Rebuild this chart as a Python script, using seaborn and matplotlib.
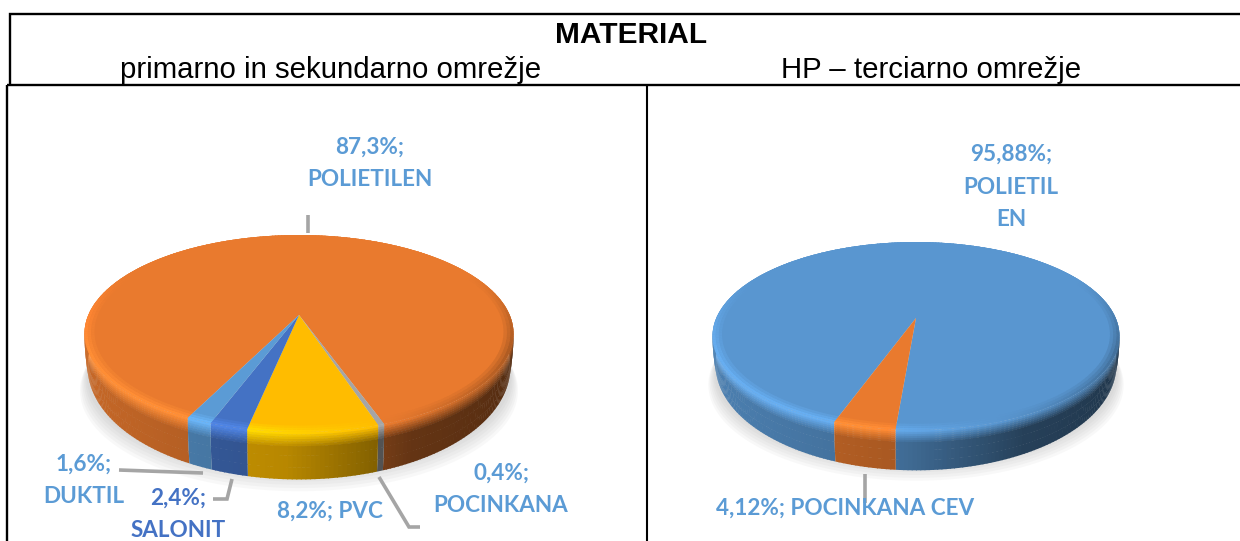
import numpy as np
import matplotlib
matplotlib.use("Agg")
import matplotlib.pyplot as plt
import seaborn as sns
from matplotlib.collections import PolyCollection
from matplotlib.colors import to_rgb
from matplotlib.transforms import Transform

W, H = 1240, 541

# ---------------- data ------------------#
title = "MATERIAL"
left_head = "primarno in sekundarno omrežje"
right_head = "HP – terciarno omrežje"

left_names = ["POLIETILEN", "POCINKANA", "PVC", "SALONIT", "DUKTIL"]
left_values = [87.3, 0.4, 8.2, 2.4, 1.6]
left_colors = ["#E97A2E", "#A5A5A5", "#FFBC00", "#4472C4", "#5B9BD5"]

right_names = ["POLIETILEN", "POCINKANA CEV"]
right_values = [95.88, 4.12]
right_colors = ["#5996D0", "#E97A2E"]

sns.set_theme(style="white")
plt.rcParams["font.family"] = ["Liberation Sans", "DejaVu Sans"]
LABEL_BLUE = "#5B9BD5"
LEADER = "#A5A5A5"


# perspective tilt, so that the pie centre sits behind the middle of the ellipse
class Tilt(Transform):
    input_dims = 2
    output_dims = 2
    has_inverse = False

    def __init__(self, k):
        super().__init__()
        self.k = k

    def transform_non_affine(self, values):
        values = np.asarray(values, dtype=float)
        w = 1 + self.k * values[:, 1]
        return values / w[:, None]


def project(x, y, k):
    w = 1 + k * y
    return x / w, y / w


def wall_shade(x):
    return np.interp(x, [-1, -0.05, 0.45, 1], [0.86, 0.72, 0.43, 0.36])


def bevel_shade(x):
    return np.interp(x, [-1, -0.2, 0.4, 1], [1.16, 1.16, 0.98, 0.72])


def wall_point(a, v, k, d):
    # point on the wall at angle a, v runs 0 (top edge) to 1 (bottom edge)
    x, y = project(np.cos(a), np.sin(a), k)
    drop = d * v * (0.62 + 0.38 * max(-np.sin(a), 0))
    return x * (1 - 0.014 * v ** 2), y - drop


def draw_pie(box, cx, cy, k, sx, sy, depth, values, colors, start):
    # box is left, top, right, bottom in pixels
    l, t, r, b = box
    ax = fig.add_axes([l / W, 1 - b / H, (r - l) / W, (b - t) / H])
    wedges, _ = ax.pie(values, colors=colors, startangle=start, counterclock=False,
                       radius=1, wedgeprops={"linewidth": 0})
    ax.set_aspect("auto")
    ax.set_xlim((l - cx) / sx, (r - cx) / sx)
    ax.set_ylim((cy - b) / sy, (cy - t) / sy)
    ax.axis("off")
    tilt = Tilt(k)
    for wedge in wedges:
        wedge.set_transform(tilt + ax.transData)
        wedge.set_zorder(3)
        wedge.set_clip_on(False)

    d = depth / sy
    # soft shadow under the pie
    tt = np.linspace(0, 2 * np.pi, 180)
    for i in range(6):
        rad = 0.99 + 0.006 * i
        px, py = project(rad * np.cos(tt), rad * np.sin(tt), k)
        ax.fill(px, py - d * (0.95 + 0.05 * i), color="#808080", alpha=0.05, lw=0, zorder=0)

    # side wall and bevel, cut in thin strips of each slice
    edges = start - np.cumsum([0] + list(values)) / sum(values) * 360
    wall_p, wall_c, bev_p, bev_c = [], [], [], []
    rows = [0, 0.05, 0.1, 0.15, 0.2, 0.25, 0.3, 0.5, 0.75, 1.0]
    rr = [0.955, 0.97, 0.985, 1.0]
    over = np.radians(0.25)
    for i, col in enumerate(colors):
        base = np.array(to_rgb(col))
        n = max(int(abs(edges[i] - edges[i + 1]) / 1.0), 1)
        th = np.radians(np.linspace(edges[i], edges[i + 1], n + 1))
        for m, (a, c) in enumerate(zip(th[:-1], th[1:])):
            # strips overlap a little so no seam shows between them
            c2 = c - over if m < n - 1 else c
            mid = (a + c) / 2
            xm = np.cos(mid)
            shade = wall_shade(xm)
            lit = bevel_shade(xm)
            weight = np.clip((0.45 - np.sin(mid)) / 0.8, 0, 1)
            edge_col = np.clip(base * (1 + (lit - 1) * weight), 0, 1)
            for j in range(len(rows) - 1):
                f = min(rows[j] / 0.3, 1)
                rgb = edge_col * (1 - f) + base * shade * f
                wall_p.append([wall_point(a, rows[j], k, d), wall_point(c2, rows[j], k, d),
                               wall_point(c2, rows[j + 1] + 0.01, k, d),
                               wall_point(a, rows[j + 1] + 0.01, k, d)])
                wall_c.append(np.clip(rgb, 0, 1))
            for j in range(len(rr) - 1):
                f = (j + 1) / 3
                rgb = base * (1 - f) + edge_col * f
                xa, ya = project(rr[j] * np.cos(a), rr[j] * np.sin(a), k)
                xb, yb = project(rr[j] * np.cos(c2), rr[j] * np.sin(c2), k)
                xe, ye = project(rr[j + 1] * np.cos(c2), rr[j + 1] * np.sin(c2), k)
                xf, yf = project(rr[j + 1] * np.cos(a), rr[j + 1] * np.sin(a), k)
                bev_p.append([(xa, ya), (xb, yb), (xe, ye), (xf, yf)])
                bev_c.append(np.clip(rgb, 0, 1))
    ax.add_collection(PolyCollection(wall_p, facecolors=wall_c, linewidths=0, zorder=1))
    ax.add_collection(PolyCollection(bev_p, facecolors=bev_c, linewidths=0, zorder=4))
    return ax


fig = plt.figure(figsize=(W / 100, H / 100), dpi=100)

# ---------- pies -----------#
draw_pie((8, 86, 646, 540), 299, 315, 0.188, 210.7, 95.0, 47,
         left_values, left_colors, 244)
draw_pie((648, 86, 1240, 540), 916, 318, 0.1915, 199.7, 90.5, 40,
         right_values, right_colors, 250.4)

# ---------- frame, headers and labels, in pixel coordinates -----------#
top = fig.add_axes([0, 0, 1, 1], zorder=10)
top.set_xlim(0, W)
top.set_ylim(H, 0)
top.axis("off")

for xs, ys, lw in [((10, 10, 1240), (85, 14, 14), 1.7),
                   ((7, 1240), (85, 85), 1.7),
                   ((7, 7), (85, 541), 1.7),
                   ((647, 647), (85, 541), 1.5)]:
    top.plot(xs, ys, color="black", lw=lw, solid_capstyle="butt", solid_joinstyle="miter")

top.text(631, 35, title, fontsize=21.5, fontweight="bold", ha="center", va="center", color="black")
top.text(331, 70, left_head, fontsize=21.2, ha="center", va="center", color="black")
top.text(931, 70, right_head, fontsize=21.2, ha="center", va="center", color="black")

leaders = [((308, 308), (215, 233)),
           ((119, 203), (470, 473)),
           ((232, 227, 213), (479, 499, 499)),
           ((379, 409, 420), (477, 527, 527)),
           ((865, 865), (474, 503))]
for xs, ys in leaders:
    top.plot(xs, ys, color=LEADER, lw=2.6, solid_capstyle="butt", solid_joinstyle="miter")

labels = [(370, 163, "87,3%;\nPOLIETILEN", LABEL_BLUE),
          (84, 480, "1,6%;\nDUKTIL", LABEL_BLUE),
          (178, 514, "2,4%;\nSALONIT", "#4472C4"),
          (330, 511, "8,2%; PVC", LABEL_BLUE),
          (501, 489, "0,4%;\nPOCINKANA", LABEL_BLUE),
          (1011, 187, "95,88%;\nPOLIETIL\nEN", LABEL_BLUE),
          (845, 508, "4,12%; POCINKANA CEV", LABEL_BLUE)]
for x, y, s, col in labels:
    top.text(x, y, s, family="Lato", fontweight="bold", fontsize=16.2, color=col,
             ha="center", va="center", linespacing=1.68)

fig.savefig("out.png", dpi=100)
